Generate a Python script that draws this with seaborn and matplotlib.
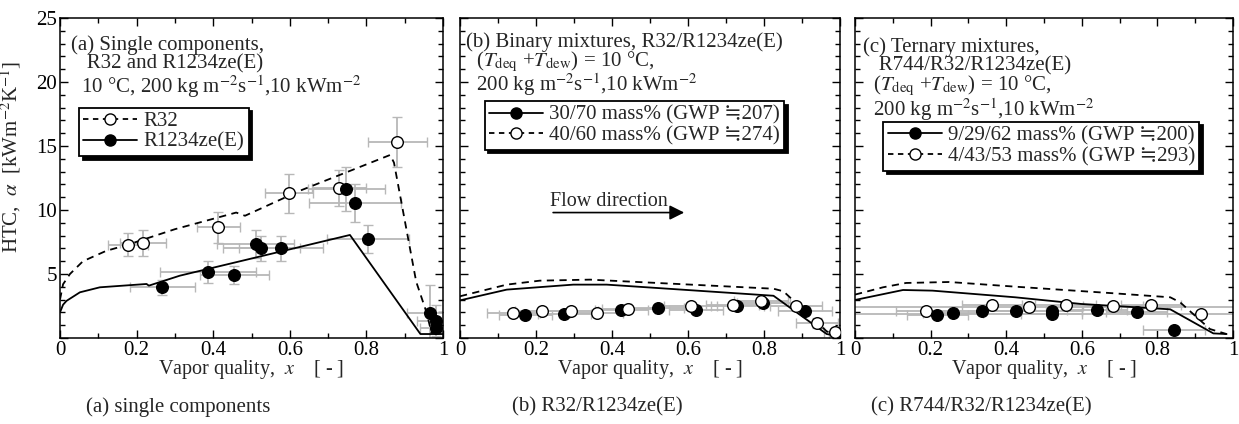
import numpy as np
import pandas as pd
import matplotlib
matplotlib.use("Agg")
import matplotlib.pyplot as plt
from matplotlib.lines import Line2D
from matplotlib.ticker import MultipleLocator
import seaborn as sns

# ---------------- data ----------------
# (a) single components
a_r32_x = [0.178, 0.216, 0.413, 0.597, 0.729, 0.881]
a_r32_y = [7.27, 7.42, 8.65, 11.3, 11.7, 15.3]
a_r32_xerr = [0.053, 0.06, 0.056, 0.063, 0.07, 0.076]
a_r32_yerr = [0.9, 1.0, 1.2, 1.5, 1.4, 1.95]
a_ze_x = [0.267, 0.387, 0.455, 0.511, 0.526, 0.577, 0.748, 0.770, 0.804, 0.965, 0.981, 0.981]
a_ze_y = [3.96, 5.13, 4.92, 7.34, 7.0, 7.0, 11.64, 10.55, 7.73, 1.95, 1.35, 0.78]
a_ze_xerr = [0.085, 0.126, 0.09, 0.1, 0.1, 0.11, 0.1, 0.12, 0.107, 0.06, 0.05, 0.04]
a_ze_yerr = [0.6, 0.85, 0.7, 1.1, 1.0, 1.0, 1.7, 1.5, 1.1, 2.2, 1.2, 0.7]
a_r32_line_x = [0, 0.008, 0.026, 0.06, 0.12, 0.178, 0.30, 0.46, 0.483, 0.626, 0.862, 0.872, 0.93, 0.957, 0.97, 1.0]
a_r32_line_y = [3.0, 4.2, 5.0, 6.0, 6.8, 7.3, 8.5, 9.8, 9.55, 11.5, 14.3, 13.7, 4.4, 2.0, 0.4, 0.4]
a_ze_line_x = [0, 0.008, 0.017, 0.052, 0.104, 0.226, 0.232, 0.313, 0.757, 0.941, 1.0]
a_ze_line_y = [2.0, 2.6, 2.9, 3.57, 3.96, 4.22, 4.09, 4.87, 8.05, 0.31, 0.31]

# (b) binary mixtures
b_3070_x = [0.172, 0.274, 0.424, 0.520, 0.621, 0.730, 0.798, 0.908, 1.0]
b_3070_y = [1.77, 1.875, 2.21, 2.34, 2.21, 2.53, 2.73, 2.08, 0.18]
b_3070_xerr = [0.07, 0.07, 0.07, 0.07, 0.07, 0.07, 0.07, 0.07, 0.03]
b_3070_yerr = [0.15, 0.15, 0.15, 0.15, 0.15, 0.15, 0.15, 0.2, 0.1]
b_4060_x = [0.140, 0.215, 0.292, 0.360, 0.443, 0.607, 0.718, 0.792, 0.884, 0.940, 0.988]
b_4060_y = [1.95, 2.08, 2.14, 1.95, 2.29, 2.47, 2.58, 2.86, 2.53, 1.17, 0.44]
b_4060_xerr = [0.07, 0.07, 0.07, 0.07, 0.07, 0.07, 0.07, 0.07, 0.068, 0.055, 0.03]
b_4060_yerr = [0.15, 0.15, 0.15, 0.15, 0.15, 0.15, 0.15, 0.15, 0.2, 0.4, 0.15]
b_3070_line_x = [0, 0.123, 0.298, 0.386, 0.825, 0.965, 1.0]
b_3070_line_y = [2.94, 3.78, 4.17, 4.17, 3.3, 0.31, 0.13]
b_4060_line_x = [0, 0.123, 0.21, 0.342, 0.825, 0.851, 0.965, 1.0]
b_4060_line_y = [3.26, 4.17, 4.48, 4.56, 3.85, 3.65, 0.52, 0.13]

# (c) ternary mixtures
c_92962_x = [0.218, 0.259, 0.337, 0.425, 0.520, 0.520, 0.640, 0.745, 0.845]
c_92962_y = [1.82, 1.93, 2.08, 2.08, 2.08, 1.88, 2.19, 2.0, 0.63]
c_92962_xerr = [0.08, 0.08, 0.08, 0.08, 0.08, 0.08, 0.08, 0.08, 0.082]
c_92962_yerr = [0.1, 0.1, 0.1, 0.1, 0.1, 0.1, 0.1, 0.1, 0.1]
c_44353_x = [0.189, 0.363, 0.461, 0.557, 0.683, 0.783, 0.915]
c_44353_y = [2.14, 2.58, 2.45, 2.58, 2.47, 2.55, 1.875]
c_44353_xerr = [0.08, 0.08, 1.0, 0.08, 0.08, 0.08, 1.0]
c_44353_yerr = [0.1, 0.1, 0.1, 0.1, 0.1, 0.1, 0.1]
c_92962_line_x = [0, 0.127, 0.205, 0.424, 0.598, 0.834, 0.948, 0.983]
c_92962_line_y = [2.97, 3.75, 3.70, 3.18, 2.66, 2.24, 0.36, 0.31]
c_44353_line_x = [0, 0.074, 0.135, 0.249, 0.424, 0.686, 0.834, 0.86, 0.939, 0.983]
c_44353_line_y = [3.39, 3.96, 4.30, 4.375, 4.01, 3.49, 3.18, 2.79, 0.70, 0.31]

# ---------------- style ----------------
sns.set_style("ticks")
plt.rcParams['font.family'] = ['Liberation Serif', 'DejaVu Serif', 'DejaVu Sans', 'Noto Sans CJK JP']
plt.rcParams['mathtext.fontset'] = 'stix'
plt.rcParams['axes.linewidth'] = 1.1
plt.rcParams['axes.edgecolor'] = 'black'

FS = 15
TFS = 15
ERRC = '#b8b8b8'

fig = plt.figure(figsize=(12.39, 4.24), dpi=100)
ax_a = fig.add_axes([60/1239, (424-338)/424, 383/1239, 320/424])
ax_b = fig.add_axes([460/1239, (424-338)/424, 380/1239, 320/424])
ax_c = fig.add_axes([855/1239, (424-338)/424, 378/1239, 320/424])


def style_axis(ax, ylabels=True):
    ax.set_xlim(0, 1)
    ax.set_ylim(0, 25)
    ax.xaxis.set_major_locator(MultipleLocator(0.2))
    ax.xaxis.set_minor_locator(MultipleLocator(0.1))
    ax.yaxis.set_major_locator(MultipleLocator(5))
    ax.yaxis.set_minor_locator(MultipleLocator(1))
    ax.tick_params(which='both', direction='in', top=True, right=True,
                   labelsize=TFS, colors='black', width=1.0, pad=2)
    ax.tick_params(which='major', length=6)
    ax.tick_params(which='minor', length=3.5)
    ax.set_xticks([0, 0.2, 0.4, 0.6, 0.8, 1.0])
    ax.set_xticklabels(['0', '0.2', '0.4', '0.6', '0.8', '1'])
    if ylabels:
        ax.set_yticks([0, 5, 10, 15, 20, 25])
        ax.set_yticklabels(['', '5', '10', '15', '20', '25'])
    else:
        ax.set_yticklabels([])
    ax.set_xlabel(r'Vapor quality,  $x$    [ - ]', fontsize=FS - 0.5, labelpad=-1)
    for s in ax.spines.values():
        s.set_visible(True)
        s.set_color('black')


def draw_series(ax, x, y, xerr, yerr, filled):
    ax.errorbar(x, y, xerr=xerr, yerr=yerr, fmt='none', ecolor=ERRC,
                elinewidth=1.3, capsize=3.5, capthick=1.0, zorder=2)
    df = pd.DataFrame({'x': x, 'y': y})
    sns.scatterplot(data=df, x='x', y='y', ax=ax, s=70,
                    color='black' if filled else 'white',
                    edgecolor='black', linewidth=1.0, zorder=4, legend=False)


def draw_line(ax, x, y, dashed):
    df = pd.DataFrame({'x': x, 'y': y})
    sns.lineplot(data=df, x='x', y='y', ax=ax, color='black', lw=1.3,
                 linestyle=(0, (4, 3)) if dashed else '-', sort=False,
                 estimator=None, zorder=3)


h_filled = lambda lab: Line2D([], [], color='black', lw=1.3, marker='o', ms=8,
                               mfc='black', mec='black', label=lab)
h_open = lambda lab: Line2D([], [], color='black', lw=1.3, ls=(0, (3, 2.5)),
                             marker='o', ms=8, mfc='white', mec='black', label=lab)

leg_kw = dict(frameon=True, fancybox=False, edgecolor='black', fontsize=FS,
              handlelength=2.6, handletextpad=0.3, borderpad=0.2,
              labelspacing=0.05, borderaxespad=0.0,
              shadow={'color': 'black', 'alpha': 1.0, 'ox': 2.5, 'oy': -2.5})

# ---- (a) ----
draw_line(ax_a, a_r32_line_x, a_r32_line_y, True)
draw_line(ax_a, a_ze_line_x, a_ze_line_y, False)
draw_series(ax_a, a_r32_x, a_r32_y, a_r32_xerr, a_r32_yerr, False)
draw_series(ax_a, a_ze_x, a_ze_y, a_ze_xerr, a_ze_yerr, True)
style_axis(ax_a, True)
ax_a.set_ylabel(r'HTC,  $\alpha$  [kWm$^{-2}$K$^{-1}$]', fontsize=FS)
ax_a.yaxis.set_label_coords(-0.097, 0.565)
ax_a.text(0.03, 0.945, '(a) Single components,\n   R32 and R1234ze(E)\n  10 °C, 200 kg m$^{-2}$s$^{-1}$,10 kWm$^{-2}$',
          transform=ax_a.transAxes, fontsize=FS, va='top', ha='left', linespacing=0.95)
leg = ax_a.legend(handles=[h_open('R32'), h_filled('R1234ze(E)')],
                  loc='upper left', bbox_to_anchor=(0.05, 0.72), **leg_kw)
leg.get_frame().set_linewidth(1.3)

# ---- (b) ----
draw_line(ax_b, b_3070_line_x, b_3070_line_y, False)
draw_line(ax_b, b_4060_line_x, b_4060_line_y, True)
draw_series(ax_b, b_3070_x, b_3070_y, b_3070_xerr, b_3070_yerr, True)
draw_series(ax_b, b_4060_x, b_4060_y, b_4060_xerr, b_4060_yerr, False)
style_axis(ax_b, False)
ax_b.set_ylabel('')
ax_b.text(0.015, 0.955, '(b) Binary mixtures, R32/R1234ze(E)\n  ($T_{\\rm deq}$ +$T_{\\rm dew}$) = 10 °C,\n  200 kg m$^{-2}$s$^{-1}$,10 kWm$^{-2}$',
          transform=ax_b.transAxes, fontsize=FS, va='top', ha='left', linespacing=0.85)
leg = ax_b.legend(handles=[h_filled('30/70 mass% (GWP \u2252207)'),
                           h_open('40/60 mass% (GWP \u2252274)')],
                  loc='upper left', bbox_to_anchor=(0.065, 0.74), **leg_kw)
leg.get_frame().set_linewidth(1.3)
ax_b.annotate('', xy=(0.59, 9.8), xytext=(0.245, 9.8),
              arrowprops=dict(arrowstyle='-|>', color='black', lw=1.2,
                              mutation_scale=22, shrinkA=0, shrinkB=0))
ax_b.text(0.236, 9.95, 'Flow direction', fontsize=FS - 0.5, ha='left', va='bottom')

# ---- (c) ----
draw_line(ax_c, c_92962_line_x, c_92962_line_y, False)
draw_line(ax_c, c_44353_line_x, c_44353_line_y, True)
draw_series(ax_c, c_44353_x, c_44353_y, c_44353_xerr, c_44353_yerr, False)
draw_series(ax_c, c_92962_x, c_92962_y, c_92962_xerr, c_92962_yerr, True)
style_axis(ax_c, False)
ax_c.set_ylabel('')
ax_c.text(0.02, 0.94, '(c) Ternary mixtures,\n   R744/R32/R1234ze(E)\n  ($T_{\\rm deq}$ +$T_{\\rm dew}$) = 10 °C,\n  200 kg m$^{-2}$s$^{-1}$,10 kWm$^{-2}$',
          transform=ax_c.transAxes, fontsize=FS, va='top', ha='left', linespacing=0.92)
leg = ax_c.legend(handles=[h_filled('9/29/62 mass% (GWP \u2252200)'),
                           h_open('4/43/53 mass% (GWP \u2252293)')],
                  loc='upper left', bbox_to_anchor=(0.075, 0.675), **leg_kw)
leg.get_frame().set_linewidth(1.3)

# captions
for xc, cap in [(178, '(a) single components'), (597, '(b) R32/R1234ze(E)'),
                (981, '(c) R744/R32/R1234ze(E)')]:
    fig.text(xc / 1239, (424 - 407) / 424, cap, fontsize=15, ha='center', va='center')

fig.savefig('out.png', dpi=100)
